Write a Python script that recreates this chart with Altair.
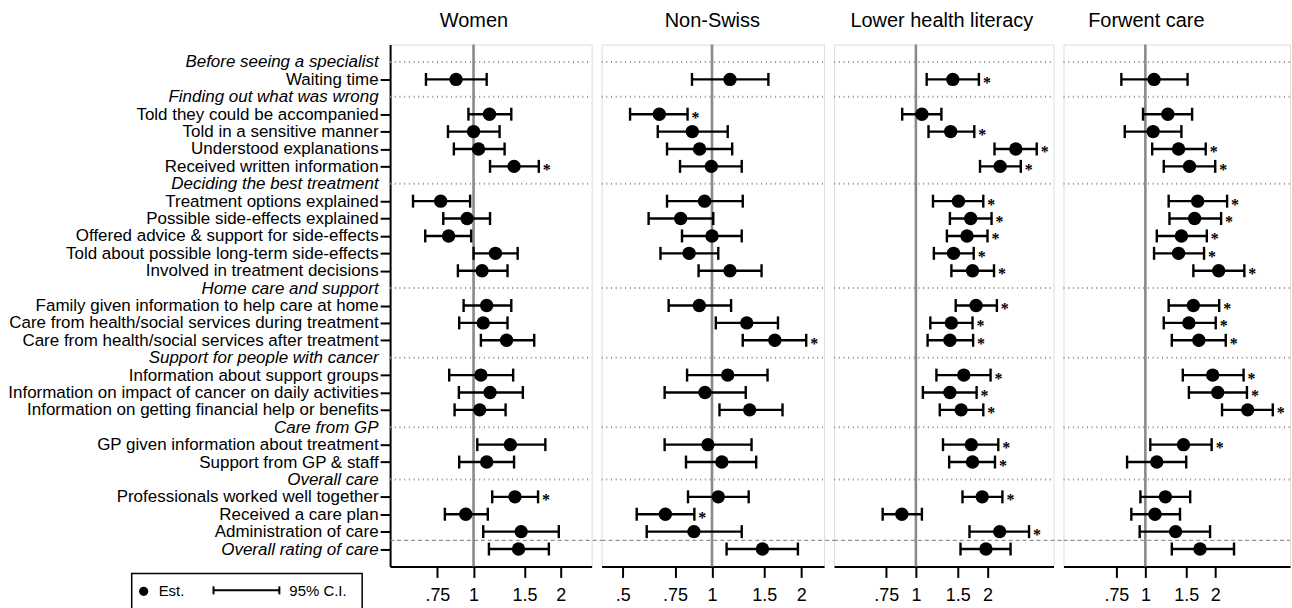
import altair as alt
import pandas as pd

FONT = "Liberation Sans"

rows = [
    "Before seeing a specialist",
    "Waiting time",
    "Finding out what was wrong",
    "Told they could be accompanied",
    "Told in a sensitive manner",
    "Understood explanations",
    "Received written information",
    "Deciding the best treatment",
    "Treatment options explained",
    "Possible side-effects explained",
    "Offered advice & support for side-effects",
    "Told about possible long-term side-effects",
    "Involved in treatment decisions",
    "Home care and support",
    "Family given information to help care at home",
    "Care from health/social services during treatment",
    "Care from health/social services after treatment",
    "Support for people with cancer",
    "Information about support groups",
    "Information on impact of cancer on daily activities",
    "Information on getting financial help or benefits",
    "Care from GP",
    "GP given information about treatment",
    "Support from GP & staff",
    "Overall care",
    "Professionals worked well together",
    "Received a care plan",
    "Administration of care",
    "Overall rating of care",
]
header_rows = [0, 2, 7, 13, 17, 21, 24]
italic_rows = header_rows + [28]
item_rows = [i for i in range(len(rows)) if i not in header_rows]

panel_titles = ["Women", "Non-Swiss", "Lower health literacy", "Forwent care"]

women_est = [0.87, 1.135, 1.0, 1.04, 1.38, 0.77, 0.95, 0.82, 1.19, 1.07, 1.11, 1.08, 1.30, 1.06, 1.14, 1.05, 1.34, 1.11, 1.39, 0.94, 1.46, 1.43]
women_lo = [0.685, 0.96, 0.816, 0.855, 1.14, 0.618, 0.786, 0.681, 1.0, 0.883, 0.924, 0.892, 1.06, 0.824, 0.89, 0.86, 1.03, 0.892, 1.16, 0.796, 1.08, 1.13]
women_hi = [1.11, 1.35, 1.23, 1.28, 1.68, 0.973, 1.14, 0.981, 1.42, 1.31, 1.35, 1.31, 1.62, 1.37, 1.48, 1.29, 1.77, 1.38, 1.67, 1.12, 1.97, 1.82]
women_sig = [0, 0, 0, 0, 1, 0, 0, 0, 0, 0, 0, 0, 0, 0, 0, 0, 0, 0, 1, 0, 0, 0]

nonswiss_est = [1.15, 0.664, 0.858, 0.908, 0.995, 0.944, 0.784, 1.0, 0.837, 1.15, 0.906, 1.31, 1.63, 1.13, 0.947, 1.34, 0.969, 1.08, 1.05, 0.696, 0.869, 1.48]
nonswiss_lo = [0.856, 0.529, 0.656, 0.705, 0.78, 0.705, 0.611, 0.792, 0.67, 0.901, 0.714, 1.03, 1.27, 0.824, 0.692, 1.06, 0.692, 0.817, 0.83, 0.557, 0.602, 1.12]
nonswiss_hi = [1.55, 0.827, 1.13, 1.17, 1.26, 1.27, 1.01, 1.26, 1.05, 1.47, 1.16, 1.67, 2.08, 1.54, 1.30, 1.73, 1.36, 1.41, 1.33, 0.872, 1.26, 1.95]
nonswiss_sig = [0, 1, 0, 0, 0, 0, 0, 0, 0, 0, 0, 0, 1, 0, 0, 0, 0, 0, 0, 1, 0, 0]

lhl_est = [1.43, 1.06, 1.40, 2.63, 2.26, 1.51, 1.70, 1.64, 1.44, 1.73, 1.79, 1.41, 1.39, 1.59, 1.39, 1.55, 1.71, 1.73, 1.90, 0.873, 2.25, 1.97]
lhl_lo = [1.11, 0.876, 1.13, 2.14, 1.86, 1.18, 1.39, 1.35, 1.19, 1.41, 1.47, 1.15, 1.12, 1.22, 1.07, 1.26, 1.30, 1.38, 1.57, 0.725, 1.68, 1.54]
lhl_hi = [1.84, 1.28, 1.76, 3.22, 2.76, 1.92, 2.08, 2.0, 1.75, 2.13, 2.19, 1.73, 1.74, 2.06, 1.80, 1.92, 2.22, 2.15, 2.31, 1.06, 2.99, 2.50]
lhl_sig = [1, 0, 1, 1, 1, 1, 1, 1, 1, 1, 1, 1, 1, 1, 1, 1, 1, 1, 1, 0, 1, 0]

forwent_est = [1.09, 1.25, 1.08, 1.39, 1.55, 1.68, 1.63, 1.43, 1.39, 2.07, 1.61, 1.54, 1.70, 1.95, 2.05, 2.76, 1.46, 1.12, 1.22, 1.10, 1.35, 1.72]
forwent_lo = [0.788, 0.977, 0.815, 1.07, 1.20, 1.26, 1.27, 1.12, 1.09, 1.61, 1.26, 1.20, 1.30, 1.45, 1.54, 2.14, 1.05, 0.834, 0.952, 0.87, 0.945, 1.30]
forwent_hi = [1.52, 1.59, 1.43, 1.82, 2.0, 2.25, 2.12, 1.84, 1.79, 2.67, 2.08, 2.01, 2.22, 2.65, 2.74, 3.54, 1.93, 1.50, 1.56, 1.41, 1.90, 2.41]
forwent_sig = [0, 0, 0, 1, 1, 1, 1, 1, 1, 1, 1, 1, 1, 1, 1, 1, 1, 0, 0, 0, 0, 0]

tick_values = [[0.75, 1, 1.5, 2], [0.5, 0.75, 1, 1.5, 2], [0.75, 1, 1.5, 2], [0.75, 1, 1.5, 2]]

series = [
    (women_est, women_lo, women_hi, women_sig),
    (nonswiss_est, nonswiss_lo, nonswiss_hi, nonswiss_sig),
    (lhl_est, lhl_lo, lhl_hi, lhl_sig),
    (forwent_est, forwent_lo, forwent_hi, forwent_sig),
]

# layout / styling
H = 523
widths = [202, 223, 220, 227]
x_domains = [[0.515, 2.557], [0.424, 2.39], [0.453, 3.79], [0.444, 4.20]]
title_x = [84, 111, 108, 83]
SPACING = 10

labels_js = "[" + ",".join("'" + r + "'" for r in rows) + "]"
italic_js = "[" + ",".join(str(i) for i in italic_rows) + "]"
header_js = "[" + ",".join(str(i) for i in header_rows) + "]"

y_scale = alt.Scale(domain=[-1, len(rows)], reverse=True, nice=False, zero=False)


def make_panel(k):
    est, lo, hi, sig = series[k]
    df = pd.DataFrame({"row": item_rows, "est": est, "lo": lo, "hi": hi, "sig": sig})
    x_scale = alt.Scale(type="log", domain=x_domains[k], nice=False, zero=False)
    x_axis = alt.Axis(
        values=tick_values[k],
        labelExpr="replace(toString(datum.value), '0.', '.')",
        title=None, grid=False,
        domainColor="black", domainWidth=2,
        tickColor="black", tickWidth=2, tickSize=11,
        labelFont=FONT, labelFontSize=18, labelColor="black",
        labelPadding=9, labelFlush=False, labelOverlap=False,
    )
    if k == 0:
        y_axis = alt.Axis(
            values=list(range(len(rows))),
            labelExpr=labels_js + "[datum.value]",
            title=None, grid=False,
            domainColor="black", domainWidth=2,
            tickColor="black", tickWidth=2, tickSize=10,
            tickOpacity={"condition": {"test": "indexof(" + header_js + ", datum.value) >= 0", "value": 0}, "value": 1},
            labelFontStyle={"condition": {"test": "indexof(" + italic_js + ", datum.value) >= 0", "value": "italic"}, "value": "normal"},
            labelFont=FONT, labelFontSize=17, labelColor="black",
            labelPadding=2, labelLimit=600, labelOverlap=False, labelFlush=False,
        )
    else:
        y_axis = None

    def X(f):
        return alt.X(f, scale=x_scale, axis=x_axis)

    def Y(f):
        return alt.Y(f, scale=y_scale, axis=y_axis)

    w = widths[k]
    hdr = pd.DataFrame({"row": header_rows})
    dotted = alt.Chart(hdr).mark_rule(color="#8c8c8c", strokeWidth=2, strokeDash=[1, 3.7]).encode(
        y=Y("row:Q"), x=alt.value(0), x2=alt.value(w)
    )
    ref = alt.Chart(pd.DataFrame({"v": [1]})).mark_rule(color="#8a8a8a", strokeWidth=2.6).encode(
        x=X("v:Q"), y=alt.value(0), y2=alt.value(H)
    )
    sep_row = (item_rows[-2] + item_rows[-1]) / 2
    ext = SPACING if k < 3 else 0
    dashed = alt.Chart(pd.DataFrame({"r": [sep_row]})).mark_rule(color="#777777", strokeWidth=1, strokeDash=[4, 3]).encode(
        y=Y("r:Q"), x=alt.value(0), x2=alt.value(w + ext)
    )
    base = alt.Chart(df)
    bars = base.mark_rule(color="black", strokeWidth=2.4).encode(x=X("lo:Q"), x2="hi:Q", y=Y("row:Q"))
    cap_lo = base.mark_tick(color="black", orient="vertical", size=13, thickness=2.4, opacity=1).encode(x=X("lo:Q"), y=Y("row:Q"))
    cap_hi = base.mark_tick(color="black", orient="vertical", size=13, thickness=2.4, opacity=1).encode(x=X("hi:Q"), y=Y("row:Q"))
    dots = base.mark_circle(color="black", size=180, opacity=1).encode(x=X("est:Q"), y=Y("row:Q"))
    stars = base.transform_filter("datum.sig == 1").mark_text(
        text="*", align="left", baseline="alphabetic", dx=4, dy=8.5, fontSize=16,
        font="Liberation Serif", fontWeight="bold", color="black"
    ).encode(x=X("hi:Q"), y=Y("row:Q"))
    title = alt.Chart(pd.DataFrame({"t": [panel_titles[k]]})).mark_text(
        align="center", baseline="alphabetic", fontSize=20, font=FONT, color="black"
    ).encode(text="t:N", x=alt.value(title_x[k]), y=alt.value(-18))

    layers = [dotted, ref, dashed, bars, cap_lo, cap_hi, dots, stars, title]

    if k == 0:
        one = pd.DataFrame({"a": [0]})
        box = alt.Chart(one).mark_rect(fill="white", fillOpacity=0, stroke="black", strokeWidth=1.5).encode(
            x=alt.value(-259), x2=alt.value(-28), y=alt.value(530), y2=alt.value(572)
        )
        ldot = alt.Chart(one).mark_circle(color="black", size=85, opacity=1).encode(x=alt.value(-247), y=alt.value(548))
        ltxt1 = alt.Chart(pd.DataFrame({"t": ["Est."]})).mark_text(
            align="left", baseline="middle", fontSize=15, font=FONT, color="black"
        ).encode(text="t:N", x=alt.value(-232), y=alt.value(548))
        lline = alt.Chart(one).mark_rule(color="black", strokeWidth=2).encode(
            x=alt.value(-177), x2=alt.value(-111), y=alt.value(547)
        )
        lcap1 = alt.Chart(one).mark_rule(color="black", strokeWidth=2).encode(
            x=alt.value(-177), y=alt.value(543), y2=alt.value(551)
        )
        lcap2 = alt.Chart(one).mark_rule(color="black", strokeWidth=2).encode(
            x=alt.value(-111), y=alt.value(543), y2=alt.value(551)
        )
        ltxt2 = alt.Chart(pd.DataFrame({"t": ["95% C.I."]})).mark_text(
            align="left", baseline="middle", fontSize=15, font=FONT, color="black"
        ).encode(text="t:N", x=alt.value(-101), y=alt.value(548))
        layers += [box, ldot, ltxt1, lline, lcap1, lcap2, ltxt2]

    return alt.layer(*layers).properties(width=w, height=H)


chart = alt.hconcat(*[make_panel(k) for k in range(4)], spacing=SPACING, bounds="flush").resolve_scale(
    x="independent", y="independent"
).properties(
    padding={"left": 7, "top": 9, "right": 0, "bottom": 5}
).configure_view(strokeWidth=0).configure(background="white")

chart.save("out.html", embed_options={"renderer": "svg", "actions": False})
